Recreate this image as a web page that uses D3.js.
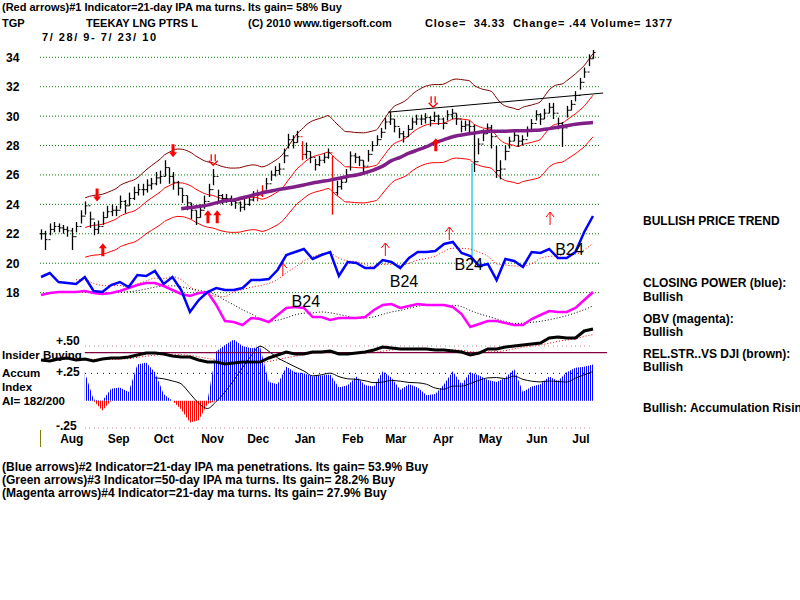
<!DOCTYPE html>
<html>
<head>
<meta charset="utf-8">
<script src="https://cdn.jsdelivr.net/npm/d3@7/dist/d3.min.js"></script>
<style>
  body { margin: 0; background: #fff; }
  svg { display: block; font-family: "Liberation Sans", Arial, sans-serif; }
</style>
</head>
<body>
<svg id="chart" width="800" height="600"></svg>
<script>
// ---- price bars, every 2nd trading day, 7/28/09 - 7/23/10
const closes = [
  22.0,21.6,22.3,22.5,22.4,22.3,22.2,21.8,22.5,23.2,
  23.9,23.0,22.3,22.5,23.1,23.5,23.6,23.6,24.2,23.9,
  24.4,24.8,25.0,25.0,25.3,25.4,25.8,25.9,26.5,25.9,
  25.5,25.1,24.6,24.1,23.6,23.1,23.6,24.2,25.0,25.9,
  24.6,24.4,24.4,24.2,24.1,23.8,24.0,24.3,24.6,24.6,
  24.9,25.4,26.0,26.3,26.4,27.3,28.4,28.2,28.6,27.4,
  27.6,27.2,26.7,27.0,27.2,27.5,24.8,25.2,25.5,26.0,
  27.3,27.2,27.0,26.6,27.4,28.0,28.4,28.9,29.6,29.8,
  29.3,28.8,28.6,29.1,29.6,29.8,29.8,29.9,29.7,30.0,
  29.8,29.5,30.1,30.2,29.8,29.3,29.4,29.3,26.9,28.1,
  28.8,29.2,28.6,26.3,26.4,27.6,28.3,28.7,28.3,28.4,
  29.0,29.5,30.1,29.8,30.2,30.6,30.2,29.5,29.2,30.4,
  30.8,31.4,32.3,33.0,33.9,34.33
];
const highs = [
  22.3,22.2,22.7,22.8,22.7,22.6,22.5,22.4,22.8,23.6,
  24.2,23.5,22.8,22.9,23.5,23.9,24.0,23.9,24.6,24.3,
  24.8,25.2,25.4,25.4,25.7,25.8,26.2,26.3,27.0,26.5,
  26.2,25.6,25.1,24.6,24.1,23.6,24.0,24.6,25.4,26.4,
  25.0,24.7,24.7,24.6,24.4,24.2,24.4,24.6,24.9,25.0,
  25.3,25.8,26.3,26.6,26.8,27.8,28.8,28.7,29.0,28.3,
  28.2,27.6,27.1,27.3,27.5,27.8,27.3,25.6,25.9,26.4,
  27.6,27.5,27.3,27.0,27.7,28.3,28.7,29.2,29.9,30.3,
  29.8,29.2,29.0,29.4,29.9,30.1,30.1,30.2,30.0,30.3,
  30.1,29.9,30.4,30.5,30.2,29.7,29.7,29.7,29.4,28.5,
  29.1,29.5,29.4,28.0,27.0,28.0,28.6,29.0,28.7,28.7,
  29.3,29.8,30.4,30.2,30.5,30.9,30.9,29.9,29.6,30.7,
  31.1,31.7,32.6,33.3,34.2,34.5
];
const lows = [
  21.6,20.9,21.9,22.1,22.1,22.0,21.8,20.9,22.1,22.7,
  23.3,22.4,21.9,22.0,22.6,23.1,23.2,23.2,23.7,23.4,
  23.9,24.3,24.6,24.6,24.8,25.0,25.3,25.4,25.9,25.4,
  25.0,24.6,24.1,23.6,23.0,22.6,23.1,23.7,24.5,25.3,
  24.2,24.0,24.1,23.9,23.7,23.5,23.6,23.9,24.2,24.2,
  24.5,25.0,25.6,25.9,26.0,26.8,27.8,27.8,28.2,27.0,
  27.1,26.8,26.3,26.6,26.8,27.1,23.3,24.6,25.0,25.5,
  26.3,26.8,26.6,26.2,26.9,27.6,28.0,28.5,29.1,29.4,
  28.9,28.5,28.2,28.6,29.1,29.4,29.4,29.5,29.3,29.6,
  29.4,29.1,29.7,29.8,29.4,28.9,29.0,28.9,26.2,27.4,
  28.3,28.8,27.8,25.8,25.7,27.0,27.8,28.3,27.9,28.0,
  28.6,29.1,29.7,29.4,29.8,30.2,29.8,29.1,27.9,29.9,
  30.4,31.0,31.8,32.6,33.4,33.9
];
const redBars = [49, 50, 59, 66];
const priceTicks = [34, 32, 30, 28, 26, 24, 22, 20, 18];

// ---- 50-day ma (purple) as plotted, every 4th trading day
const ma50Vals = [
  null,null,null,null,null,null,null,null,null,null,
  null,null,null,null,null,null,23.7,23.78,23.85,23.95,
  24.1,24.25,24.3,24.45,24.6,24.75,24.87,25.0,25.1,25.2,
  25.32,25.45,25.55,25.65,25.77,25.9,26.0,26.15,26.35,26.6,
  26.97,27.2,27.48,27.7,27.92,28.2,28.4,28.6,28.72,28.82,
  28.9,28.98,28.98,28.98,29.0,29.0,29.03,29.06,29.15,29.25,
  29.35,29.45,29.52,29.57
];

// ---- indicators, every 4th trading day
const cpVals = [
  23,27,18,17,16,23,9,8,15,18,
  13,25,24,29,16,23,10,-12,0,8,
  12,10,10,12,20,20,21,30,45,48,
  51,41,45,48,24,38,37,32,32,40,
  38,32,42,48,48,49,56,58,47,44,
  34,36,20,41,39,33,48,47,51,42,
  42,48,68,84
];
const obvVals = [
  35,37,38,38,38,39,37,36,37,39,
  42,45,47,47,44,40,36,34,37,38,
  25,9,8,5,12,11,8,15,22,23,
  22,13,13,10,12,12,12,13,20,25,
  26,22,24,26,25,25,25,23,16,3,
  6,9,9,7,5,5,11,15,19,18,
  18,22,30,38
];
const rsVals = [
  10,9,11,12,10,11,9,11,12,12,
  13,15,17,17,16,14,13,13,10,8,
  8,6,7,8,8,8,12,15,18,16,
  16,18,18,19,16,16,17,18,20,23,
  22,21,21,21,21,20,20,19,18,15,
  17,21,21,23,24,25,26,27,32,33,
  32,32,39,41
];
const aiVals = [
  null,null,null,null,null,0.26,0.01,-0.09,0.11,0.12,
  0.08,0.33,0.35,0.26,0.06,0.00,-0.08,-0.20,-0.18,-0.03,
  0.45,0.51,0.56,0.50,0.48,0.49,0.17,0.15,0.31,0.26,
  0.25,0.22,0.23,0.24,0.12,0.14,0.22,0.14,0.13,0.27,
  0.21,0.10,0.15,0.12,0.05,0.06,0.15,0.27,0.15,0.26,
  0.23,0.19,0.17,0.21,0.29,0.08,0.13,0.15,0.22,0.18,
  0.26,0.30,0.31,0.33
];
const aiTicks = [0.5, 0.25, -0.25];
const aiTickLabels = ["+.50", "+.25", "-.25"];

// ---- signals and annotations
const priceArrows = [
  { i: 12.7, p: 24.2, dir: "down", kind: "solid" },
  { i: 29.9, p: 27.2, dir: "down", kind: "solid" },
  { i: 39.0, p: 26.66, dir: "down", kind: "hollow" },
  { i: 14.0, p: 21.35, dir: "up", kind: "solid" },
  { i: 37.8, p: 23.6, dir: "up", kind: "solid" },
  { i: 39.9, p: 23.6, dir: "up", kind: "solid" },
  { i: 88.8, p: 30.6, dir: "down", kind: "hollow" },
  { i: 89.4, p: 28.5, dir: "up", kind: "solid" }
];
const cpArrows = [{ j: 27.6, v: 37 }, { j: 39.3, v: 57 }, { j: 46.6, v: 73 }, { j: 58.1, v: 88 }];
const b24Labels = [{ j: 28.6, v: -7 }, { j: 39.8, v: 13 }, { j: 47.2, v: 30 }, { j: 58.7, v: 45 }];
const trendLine = [{ i: 78.6, p: 30.27 }, { i: 127.3, p: 31.57 }];
const cyanLine = { i: 97.6, from: 26.8, to: 20.05 };
const insider = { from: 5, to: 64.6, level: 0.44 };

const startDate = new Date(2009, 6, 28), endDate = new Date(2010, 6, 23);

const headerLines = [
  { x: 2, y: 11, t: "(Red arrows)#1 Indicator=21-day IPA ma turns. Its gain= 58% Buy" },
  { x: 2, y: 27, t: "TGP" },
  { x: 86, y: 27, t: "TEEKAY LNG PTRS L" },
  { x: 248, y: 27, t: "(C) 2010 www.tigersoft.com" },
  { x: 425, y: 27, t: "Close=  34.33  Change= .44 Volume= 1377", w: 247 },
  { x: 42, y: 41, t: "7/ 28/ 9- 7/ 23/ 10", w: 114 }
];
const footerLines = [
  "(Blue arrows)#2 Indicator=21-day IPA ma penetrations. Its gain= 53.9% Buy",
  "(Green arrows)#3 Indicator=50-day IPA ma turns. Its gain= 28.2% Buy",
  "(Magenta arrows)#4 Indicator=21-day ma turns. Its gain= 27.9% Buy"
];
const rightLabels = [
  { y: 225, t: "BULLISH PRICE TREND" },
  { y: 287, t: "CLOSING POWER (blue):" },
  { y: 301, t: "Bullish" },
  { y: 323, t: "OBV (magenta):" },
  { y: 336, t: "Bullish" },
  { y: 358, t: "REL.STR..VS DJI (brown):" },
  { y: 371, t: "Bullish" },
  { y: 412, t: "Bullish: Accumulation Rising" }
];
const leftLabels = [
  { y: 358.5, t: "Insider Buying" },
  { y: 377, t: "Accum" },
  { y: 391, t: "Index" },
  { y: 405, t: "AI= 182/200" }
];

function rolling(arr, w) {
  return arr.map((d, i) => {
    if (i < w - 1) return null;
    const win = arr.slice(i - w + 1, i + 1);
    if (win.some(v => v == null)) return null;
    return d3.mean(win);
  });
}

function init() {
  const svg = d3.select("#chart");

  const xP = d3.scaleLinear().domain([0, closes.length - 1]).range([41, 593]);
  const xI = d3.scaleLinear().domain([0, cpVals.length - 1]).range([41, 593]);
  const xT = d3.scaleTime().domain([startDate, endDate]).range([41, 593]);
  const yP = d3.scaleLinear().domain([18, 34]).range([292.6, 57.3]);
  const yCP = d3.scaleLinear().domain([0, 100]).range([300, 200]);
  const yOBV = d3.scaleLinear().domain([0, 100]).range([330, 230]);
  const yRS = d3.scaleLinear().domain([0, 100]).range([370, 270]);
  const yAI = d3.scaleLinear().domain([-0.25, 0.5]).range([428, 346]);

  const defs = svg.append("defs");
  [["blueStripes", "#0000ff"], ["redStripes", "#ff0000"]].forEach(([id, c]) => {
    defs.append("pattern")
      .attr("id", id).attr("width", 2).attr("height", 4)
      .attr("patternUnits", "userSpaceOnUse")
      .append("rect").attr("width", 1).attr("height", 4).attr("fill", c);
  });

  // price grid
  svg.append("g").selectAll("line")
    .data(priceTicks).enter().append("line")
    .attr("x1", 40).attr("x2", 600)
    .attr("y1", d => yP(d)).attr("y2", d => yP(d))
    .attr("stroke", "#008000").attr("stroke-dasharray", "1,2");

  svg.append("g").selectAll("text")
    .data(priceTicks).enter().append("text")
    .attr("x", 6).attr("y", d => yP(d) + 4.5)
    .attr("font-size", 12).attr("font-weight", "bold")
    .text(d => d);

  // 21-day ma and bands
  const ma21 = rolling(closes, 11);
  const lineP = d3.line().defined(d => d != null).x((d, i) => xP(i)).y(d => yP(d)).curve(d3.curveMonotoneX);

  svg.append("path").datum(ma21.map(d => d == null ? null : d * 1.09))
    .attr("d", lineP).attr("fill", "none").attr("stroke", "#800000").attr("stroke-width", 1);
  svg.append("path").datum(ma21.map(d => d == null ? null : d * 0.91))
    .attr("d", lineP).attr("fill", "none").attr("stroke", "#ff0000").attr("stroke-width", 1);
  svg.append("path").datum(ma21)
    .attr("d", lineP).attr("fill", "none").attr("stroke", "#ff0000").attr("stroke-width", 1);

  // cyan line
  svg.append("line")
    .attr("x1", xP(cyanLine.i)).attr("x2", xP(cyanLine.i))
    .attr("y1", yP(cyanLine.from)).attr("y2", yP(cyanLine.to))
    .attr("stroke", "#30d0e0").attr("stroke-width", 1.5);

  // bars
  const bars = svg.append("g");
  closes.forEach((c, i) => {
    const col = redBars.includes(i) ? "#ff0000" : "#000";
    const x = Math.round(xP(i)) + 0.5;
    const open = i > 0 ? closes[i - 1] : c;
    bars.append("line").attr("x1", x).attr("x2", x)
      .attr("y1", yP(highs[i])).attr("y2", yP(lows[i]))
      .attr("stroke", col).attr("stroke-width", 1.3);
    bars.append("line").attr("x1", x - 2).attr("x2", x)
      .attr("y1", yP(open)).attr("y2", yP(open)).attr("stroke", col);
    bars.append("line").attr("x1", x).attr("x2", x + 2)
      .attr("y1", yP(c)).attr("y2", yP(c)).attr("stroke", col);
  });

  const lineI = (scale) => d3.line().defined(d => d != null).x((d, i) => xI(i)).y(d => scale(d));

  svg.append("path").datum(ma50Vals)
    .attr("d", lineI(yP).curve(d3.curveMonotoneX)).attr("fill", "none")
    .attr("stroke", "#7f1f87").attr("stroke-width", 3.5);

  // resistance line
  svg.append("line")
    .attr("x1", xP(trendLine[0].i)).attr("y1", yP(trendLine[0].p))
    .attr("x2", xP(trendLine[1].i)).attr("y2", yP(trendLine[1].p))
    .attr("stroke", "#000").attr("stroke-width", 1);

  // red signal arrows
  const arrows = svg.append("g");
  priceArrows.forEach(a => {
    const x = xP(a.i), y = yP(a.p), s = a.dir === "down" ? -1 : 1;
    if (a.kind === "solid") {
      arrows.append("path")
        .attr("d", `M${x - 1.5},${y + s * 13} L${x + 1.5},${y + s * 13} L${x + 1.5},${y + s * 5} L${x + 4},${y + s * 5} L${x},${y} L${x - 4},${y + s * 5} L${x - 1.5},${y + s * 5} Z`)
        .attr("fill", "#ff0000");
    } else {
      arrows.append("path")
        .attr("d", `M${x - 2},${y + s * 11} L${x - 2},${y + s * 4} M${x + 2},${y + s * 11} L${x + 2},${y + s * 4} M${x - 4.5},${y + s * 4.5} L${x},${y} L${x + 4.5},${y + s * 4.5}`)
        .attr("fill", "none").attr("stroke", "#ff0000").attr("stroke-width", 1.3);
    }
  });

  // indicator lines
  const dotted = (data, scale, color) => svg.append("path").datum(data)
    .attr("d", lineI(scale).curve(d3.curveMonotoneX)).attr("fill", "none")
    .attr("stroke", color).attr("stroke-width", 1).attr("stroke-dasharray", "1,2");

  dotted(rolling(cpVals, 5), yCP, "#ff0000");
  dotted(rolling(obvVals, 6), yOBV, "#000");
  dotted(rolling(rsVals, 5), yRS, "#ff0000");

  svg.append("path").datum(obvVals)
    .attr("d", lineI(yOBV)).attr("fill", "none").attr("stroke", "#ff00ff").attr("stroke-width", 2.5);
  svg.append("path").datum(cpVals)
    .attr("d", lineI(yCP)).attr("fill", "none").attr("stroke", "#0000ff").attr("stroke-width", 2.5);

  cpArrows.forEach(a => {
    const x = xI(a.j), y = yCP(a.v);
    arrows.append("path")
      .attr("d", `M${x},${y} L${x},${y + 13} M${x - 4},${y + 5} L${x},${y} L${x + 4},${y + 5}`)
      .attr("fill", "none").attr("stroke", "#ff0000").attr("stroke-width", 1);
  });

  svg.append("g").selectAll("text")
    .data(b24Labels).enter().append("text")
    .attr("x", d => xI(d.j)).attr("y", d => yCP(d.v))
    .attr("font-size", 16).text("B24");

  // accumulation panel
  svg.append("g").selectAll("line")
    .data(aiTicks).enter().append("line")
    .attr("x1", 85).attr("x2", 593)
    .attr("y1", d => yAI(d)).attr("y2", d => yAI(d))
    .attr("stroke", d => d === 0.25 ? "#000" : "#999")
    .attr("stroke-dasharray", d => d === 0.25 ? "1,5" : "1,8");
  svg.append("g").selectAll("line")
    .data(aiTicks.filter(d => d !== 0.25)).enter().append("line")
    .attr("x1", 89).attr("x2", 593)
    .attr("y1", d => yAI(d)).attr("y2", d => yAI(d))
    .attr("stroke", "#e08080").attr("stroke-dasharray", "1,8");

  svg.append("g").selectAll("text")
    .data(aiTicks).enter().append("text")
    .attr("x", 56).attr("y", (d, i) => yAI(d) + [-1, 3, 2][i])
    .attr("font-size", 12).attr("font-weight", "bold")
    .text((d, i) => aiTickLabels[i]);

  const areaPos = d3.area().defined(d => d != null)
    .x((d, i) => xI(i)).y0(yAI(0)).y1(d => yAI(Math.max(d, 0)));
  const areaNeg = d3.area().defined(d => d != null)
    .x((d, i) => xI(i)).y0(yAI(0)).y1(d => yAI(Math.min(d, 0)));
  svg.append("path").datum(aiVals).attr("d", areaPos).attr("fill", "url(#blueStripes)");
  svg.append("path").datum(aiVals).attr("d", areaNeg).attr("fill", "url(#redStripes)");

  svg.append("path").datum(rolling(aiVals, 6).map((d, i) => i < 13 ? null : d))
    .attr("d", lineI(yAI).curve(d3.curveMonotoneX)).attr("fill", "none")
    .attr("stroke", "#000").attr("stroke-width", 1);

  svg.append("line")
    .attr("x1", xI(insider.from)).attr("x2", xI(insider.to))
    .attr("y1", yAI(insider.level)).attr("y2", yAI(insider.level))
    .attr("stroke", "#800040").attr("stroke-width", 1.2);

  svg.append("path").datum(rsVals)
    .attr("d", lineI(yRS)).attr("fill", "none").attr("stroke", "#000").attr("stroke-width", 3);

  // month labels
  svg.append("g").selectAll("text")
    .data(d3.timeMonths(new Date(2009, 7, 1), new Date(2010, 7, 1))).enter().append("text")
    .attr("x", d => xT(d) + 13).attr("y", 443)
    .attr("font-size", 12).attr("font-weight", "bold")
    .text(d3.timeFormat("%b"));

  svg.append("line").attr("x1", 40.5).attr("x2", 40.5).attr("y1", 430).attr("y2", 447)
    .attr("stroke", "#808000").attr("stroke-width", 1);

  // texts
  svg.append("g").selectAll("text")
    .data(headerLines).enter().append("text")
    .attr("x", d => d.x).attr("y", d => d.y)
    .attr("font-size", 11).attr("font-weight", "bold")
    .attr("textLength", d => d.w || null)
    .attr("lengthAdjust", "spacing")
    .style("white-space", "pre")
    .text(d => d.t);

  svg.append("g").selectAll("text")
    .data(footerLines).enter().append("text")
    .attr("x", 2).attr("y", (d, i) => 471 + i * 13)
    .attr("font-size", 12).attr("font-weight", "bold")
    .text(d => d);

  svg.append("g").selectAll("text")
    .data(rightLabels).enter().append("text")
    .attr("x", 643).attr("y", d => d.y)
    .attr("font-size", 12).attr("font-weight", "bold")
    .text(d => d.t);

  svg.append("g").selectAll("text")
    .data(leftLabels).enter().append("text")
    .attr("x", 2).attr("y", d => d.y)
    .attr("font-size", 11.5).attr("font-weight", "bold")
    .text(d => d.t);
}

window.onload = init;
</script>
</body>
</html>
